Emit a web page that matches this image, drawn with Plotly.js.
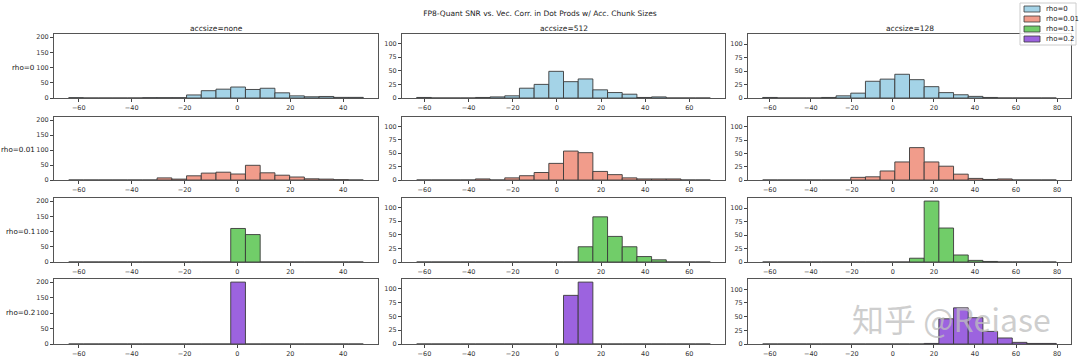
<!DOCTYPE html>
<html><head><meta charset="utf-8">
<script src="https://cdn.plot.ly/plotly-3.0.1.min.js"></script>
<style>html,body{margin:0;padding:0;background:#fff}#chart{width:1080px;height:362px}</style>
</head><body><div id="chart"></div>
<script>
// ---------- data ----------
const chartTitle = "FP8-Quant SNR vs. Vec. Corr. in Dot Prods w/ Acc. Chunk Sizes";
const colTitles = ["accsize=none", "accsize=512", "accsize=128"];
const rowLabels = ["rho=0", "rho=0.01", "rho=0.1", "rho=0.2"];
// histogram bin edges per column (20 equal bins)
const binStart = [-63.8, -63.5, -63.45];
const binWidth = [5.57, 6.65, 7.155];
// counts per bin (200 samples each)
const none_rho0   = [1,0,0,0,0,1,1,1,10,24,29,36,28,32,17,7,4,5,2,2];
const none_rho001 = [0,0,0,0,0,0,7,3,14,23,26,20,49,24,16,10,4,3,1,0];
const none_rho01  = [0,0,0,0,0,0,0,0,0,0,0,110,90,0,0,0,0,0,0,0];
const none_rho02  = [0,0,0,0,0,0,0,0,0,0,0,200,0,0,0,0,0,0,0,0];
const a512_rho0   = [1,0,0,0,1,2,4,18,25,49,30,35,15,10,7,1,2,0,0,0];
const a512_rho001 = [0,0,0,0,2,0,4,8,14,31,54,51,16,10,4,2,2,2,0,0];
const a512_rho01  = [0,0,0,0,0,0,0,0,0,0,0,28,83,47,28,10,4,0,0,0];
const a512_rho02  = [0,0,0,0,0,0,0,0,0,0,88,112,0,0,0,0,0,0,0,0];
const a128_rho0   = [1,0,0,0,1,4,9,31,35,44,34,21,10,6,3,1,0,0,0,0];
const a128_rho001 = [0,0,0,0,0,0,5,6,17,34,61,34,26,11,3,1,2,0,0,0];
const a128_rho01  = [0,0,0,0,0,0,0,0,0,0,7,113,63,13,3,1,0,0,0,0];
const a128_rho02  = [0,0,0,0,0,0,0,0,0,0,0,1,46,66,48,23,11,3,1,1];
const xTicks = [[-60,-40,-20,0,20,40],[-60,-40,-20,0,20,40,60],[-60,-40,-20,0,20,40,60,80]];
const yTicks = [[0,50,100,150,200],[0,25,50,75,100],[0,25,50,75,100]];

const grid = [
  [none_rho0, a512_rho0, a128_rho0],
  [none_rho001, a512_rho001, a128_rho001],
  [none_rho01, a512_rho01, a128_rho01],
  [none_rho02, a512_rho02, a128_rho02]
];

// ---------- styles / layout ----------
const fills = ['#a4d3e7', '#f19c8b', '#71cd69', '#9c63df'];
const edge = '#3a3a3a';
const W = 1080, H = 362;
const colPx = [[54,378],[402,725],[748,1071]];
const rowPx = [[34,98],[117,180],[198,262],[279,344]];
const px = v => v / W;
const py = v => 1 - v / H;

const traces = [];
const layout = {
  width: W, height: H,
  margin: {l:0, r:0, t:0, b:0},
  paper_bgcolor: '#fff', plot_bgcolor: '#fff',
  showlegend: false,
  font: {family: 'DejaVu Sans', color: '#222'},
  title: {text: chartTitle, x: 0.5, xanchor: 'center', yref: 'container', y: py(13), yanchor: 'middle',
          font: {size: 7.5, family: 'DejaVu Sans', color: '#222'}},
  annotations: [], shapes: []
};

// axis range like matplotlib auto margins (5%)
function xr(c) {
  const lo = binStart[c], hi = binStart[c] + 20 * binWidth[c];
  const m = 0.05 * (hi - lo);
  return [lo - m, hi + m];
}
function yr(c) {
  let mx = 0;
  for (let r = 0; r < 4; r++) mx = Math.max(mx, ...grid[r][c]);
  return [0, mx * 1.05];
}

for (let r = 0; r < 4; r++) {
  for (let c = 0; c < 3; c++) {
    const idx = r * 3 + c + 1;
    const sfx = idx === 1 ? '' : String(idx);
    const cnt = grid[r][c];
    const centers = cnt.map((_, i) => binStart[c] + (i + 0.5) * binWidth[c]);
    traces.push({
      type: 'bar', x: centers, y: cnt, width: cnt.map(() => binWidth[c]),
      xaxis: 'x' + sfx, yaxis: 'y' + sfx,
      name: rowLabels[r],
      marker: {color: fills[r], line: {color: edge, width: 0.9}},
      hoverinfo: 'x+y'
    });
    const common = {
      showline: true, mirror: true, linecolor: '#555', linewidth: 1,
      showgrid: false, zeroline: false, ticks: 'outside', ticklen: 3, tickwidth: 1, tickcolor: '#444',
      tickfont: {size: 6.5, family: 'DejaVu Sans', color: '#333'}, fixedrange: true
    };
    layout['xaxis' + sfx] = Object.assign({}, common, {
      domain: [px(colPx[c][0]), px(colPx[c][1])],
      anchor: 'y' + sfx,
      range: xr(c), tickmode: 'array', tickvals: xTicks[c],
      ticktext: xTicks[c].map(v => v < 0 ? '\u2212' + (-v) : String(v))
    });
    layout['yaxis' + sfx] = Object.assign({}, common, {
      domain: [py(rowPx[r][1]), py(rowPx[r][0])],
      anchor: 'x' + sfx,
      range: yr(c), tickmode: 'array', tickvals: yTicks[c]
    });
  }
}

// column titles
for (let c = 0; c < 3; c++) {
  layout.annotations.push({
    text: colTitles[c], xref: 'paper', yref: 'paper',
    x: px((colPx[c][0] + colPx[c][1]) / 2), y: py(28), xanchor: 'center', yanchor: 'middle',
    showarrow: false, font: {size: 7.5, family: 'DejaVu Sans', color: '#222'}
  });
}
// row labels
for (let r = 0; r < 4; r++) {
  layout.annotations.push({
    text: rowLabels[r], xref: 'paper', yref: 'paper',
    x: px(37), y: py((rowPx[r][0] + rowPx[r][1]) / 2 + 1), xanchor: 'right', yanchor: 'middle',
    showarrow: false, font: {size: 7.2, family: 'DejaVu Sans', color: '#111'}
  });
}
// legend box (drawn)
const lgX0 = 1020, lgX1 = 1076, lgY0 = 3, lgY1 = 45;
layout.shapes.push({type: 'rect', xref: 'paper', yref: 'paper', x0: px(lgX0), x1: px(lgX1), y0: py(lgY1), y1: py(lgY0),
  line: {color: '#ccc', width: 1}, fillcolor: 'rgba(255,255,255,0.85)', layer: 'above'});
const lgRows = [9, 19, 29, 39];
for (let r = 0; r < 4; r++) {
  layout.shapes.push({type: 'rect', xref: 'paper', yref: 'paper', x0: px(1024), x1: px(1040),
    y0: py(lgRows[r] + 3), y1: py(lgRows[r] - 3), fillcolor: fills[r], line: {color: edge, width: 0.8}, layer: 'above'});
  layout.annotations.push({
    text: rowLabels[r], xref: 'paper', yref: 'paper', x: px(1044), y: py(lgRows[r]),
    xanchor: 'left', yanchor: 'middle', showarrow: false, font: {size: 7, family: 'DejaVu Sans', color: '#222'}
  });
}
// watermark present in the reference image
layout.annotations.push({
  text: '知乎 @Reiase', xref: 'paper', yref: 'paper', x: px(951), y: py(318), xanchor: 'center', yanchor: 'middle',
  showarrow: false, font: {size: 32, family: 'Noto Sans CJK SC', color: 'rgba(190,190,190,0.75)'}
});

Plotly.newPlot('chart', traces, layout, {displayModeBar: false, staticPlot: true});
</script>
</body></html>
